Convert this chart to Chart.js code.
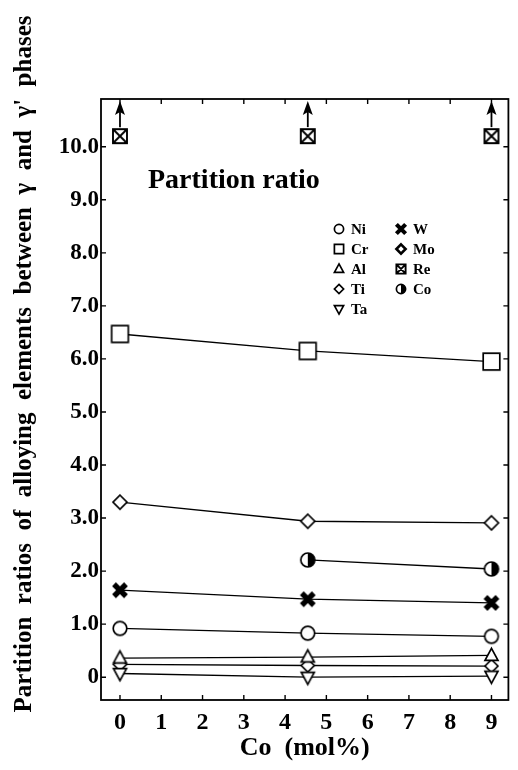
<!DOCTYPE html>
<html>
<head>
<meta charset="utf-8">
<script src="https://cdn.jsdelivr.net/npm/chart.js@4.4.1/dist/chart.umd.min.js"></script>
<style>
  html, body { margin: 0; padding: 0; background: #fff; }
  canvas { display: block; }
</style>
</head>
<body>
<canvas id="ratioChart" width="518" height="770"></canvas>
<script>
// Co content of the alloys (mol%)
var coContent = [0, 4.55, 9];

// partition ratios gamma / gamma' for each element
var ni = [0.92, 0.83, 0.77];
var cr = [6.47, 6.15, 5.95];
var al = [0.36, 0.38, 0.41];
var ti = [3.30, 2.94, 2.91];
var ta = [0.07, 0.00, 0.02];
var w  = [1.64, 1.47, 1.40];
var mo = [0.24, 0.22, 0.21];
var re = [10.2, 10.2, 10.2];   // off scale, drawn with arrows
var co = [null, 2.21, 2.04];

var xTickValues = [0, 1, 2, 3, 4, 5, 6, 7, 8, 9];
var yTickValues = [0, 1, 2, 3, 4, 5, 6, 7, 8, 9, 10];

var serif = "'Liberation Serif', 'Times New Roman', serif";

// draws one symbol, also used for the legend
function drawMarker(ctx, kind, cx, cy, s) {
    ctx.save();
    ctx.strokeStyle = '#000';
    ctx.fillStyle = '#fff';
    ctx.lineWidth = 1.7;
    ctx.beginPath();
    if (kind === 'circle') {
        ctx.arc(cx, cy, s, 0, 2 * Math.PI);
        ctx.fill(); ctx.stroke();
    } else if (kind === 'square') {
        ctx.rect(cx - s, cy - s, 2 * s, 2 * s);
        ctx.fill(); ctx.stroke();
    } else if (kind === 'triUp' || kind === 'triDown') {
        var d = kind === 'triUp' ? 1 : -1;
        ctx.moveTo(cx, cy - d * s * 1.1);
        ctx.lineTo(cx + s, cy + d * s * 0.75);
        ctx.lineTo(cx - s, cy + d * s * 0.75);
        ctx.closePath();
        ctx.fill(); ctx.stroke();
    } else if (kind === 'diamond' || kind === 'diamondBold') {
        if (kind === 'diamondBold') ctx.lineWidth = 2.6;
        ctx.moveTo(cx, cy - s);
        ctx.lineTo(cx + s, cy);
        ctx.lineTo(cx, cy + s);
        ctx.lineTo(cx - s, cy);
        ctx.closePath();
        ctx.fill(); ctx.stroke();
    } else if (kind === 'cross') {
        ctx.lineWidth = s * 0.9;
        ctx.moveTo(cx - s, cy - s); ctx.lineTo(cx + s, cy + s);
        ctx.moveTo(cx + s, cy - s); ctx.lineTo(cx - s, cy + s);
        ctx.stroke();
    } else if (kind === 'boxCross') {
        ctx.lineWidth = 1.9;
        ctx.rect(cx - s, cy - s, 2 * s, 2 * s);
        ctx.fill();
        ctx.moveTo(cx - s, cy - s); ctx.lineTo(cx + s, cy + s);
        ctx.moveTo(cx + s, cy - s); ctx.lineTo(cx - s, cy + s);
        ctx.stroke();
    } else if (kind === 'halfCircle') {
        ctx.arc(cx, cy, s, 0, 2 * Math.PI);
        ctx.fill(); ctx.stroke();
        ctx.beginPath();
        ctx.fillStyle = '#000';
        ctx.arc(cx, cy, s, -Math.PI / 2, Math.PI / 2);
        ctx.closePath();
        ctx.fill();
    }
    ctx.restore();
}

function markerImage(kind, s) {
    var c = document.createElement('canvas');
    var n = Math.ceil(2 * s + 8);
    c.width = n; c.height = n;
    drawMarker(c.getContext('2d'), kind, n / 2, n / 2, s);
    return c;
}

function series(label, values, kind, size, showLine) {
    var pts = [];
    coContent.forEach(function (x, i) {
        if (values[i] !== null) pts.push({x: x, y: values[i]});
    });
    return {
        label: label,
        data: pts,
        marker: kind,
        borderColor: '#000',
        borderWidth: 1.3,
        showLine: showLine !== false,
        pointStyle: markerImage(kind, size),
        pointRadius: size,
        tension: 0
    };
}

var datasets = [
    series('Ni', ni, 'circle', 6.8),
    series('Cr', cr, 'square', 8.3),
    series('Al', al, 'triUp', 6.5),
    series('Ti', ti, 'diamond', 7),
    series('Ta', ta, 'triDown', 6.5),
    series('W', w, 'cross', 6),
    series('Mo', mo, 'diamond', 6.5),
    series('Re', re, 'boxCross', 7, false),
    series('Co', co, 'halfCircle', 7)
];

// frame, inward tick marks, arrows, legend and labels
var decorations = {
    id: 'decorations',
    afterDatasetsDraw: function (chart) {
        var ctx = chart.ctx;
        var a = chart.chartArea;

        // arrows above the Re points (ratio beyond the axis)
        var reMeta = chart.getDatasetMeta(7);
        ctx.save();
        ctx.strokeStyle = '#000';
        ctx.fillStyle = '#000';
        ctx.lineWidth = 1.8;
        reMeta.data.forEach(function (p) {
            ctx.beginPath();
            ctx.moveTo(p.x, p.y - 9);
            ctx.lineTo(p.x, a.top + 10);
            ctx.stroke();
            ctx.beginPath();
            ctx.moveTo(p.x, a.top + 2);
            ctx.lineTo(p.x + 5, a.top + 16);
            ctx.lineTo(p.x, a.top + 13);
            ctx.lineTo(p.x - 5, a.top + 16);
            ctx.closePath();
            ctx.fill();
        });
        ctx.restore();
    },
    afterDraw: function (chart) {
        var ctx = chart.ctx;
        var a = chart.chartArea;
        var xs = chart.scales.x, ys = chart.scales.y;

        ctx.save();
        ctx.strokeStyle = '#000';
        ctx.lineWidth = 1.8;
        ctx.strokeRect(a.left, a.top, a.right - a.left, a.bottom - a.top);

        ctx.lineWidth = 1.4;
        ctx.beginPath();
        xs.ticks.forEach(function (t) {
            var px = xs.getPixelForValue(t.value);
            ctx.moveTo(px, a.bottom); ctx.lineTo(px, a.bottom - 5);
            ctx.moveTo(px, a.top); ctx.lineTo(px, a.top + 5);
        });
        ys.ticks.forEach(function (t) {
            var py = ys.getPixelForValue(t.value);
            ctx.moveTo(a.left, py); ctx.lineTo(a.left + 5, py);
            ctx.moveTo(a.right, py); ctx.lineTo(a.right - 5, py);
        });
        ctx.stroke();

        // y axis title
        ctx.fillStyle = '#000';
        ctx.font = 'bold 25px ' + serif;
        ctx.textAlign = 'center';
        ctx.textBaseline = 'middle';
        ctx.save();
        ctx.translate(25, 364);
        ctx.rotate(-Math.PI / 2);
        ctx.fillText("Partition  ratios  of  alloying  elements  between  \u03b3  and  \u03b3'  phases", 0, 0);
        ctx.restore();

        // panel label
        ctx.font = 'bold 28px ' + serif;
        ctx.textAlign = 'left';
        ctx.textBaseline = 'alphabetic';
        ctx.fillText('Partition ratio', 148, 188);

        // two column legend
        ctx.font = 'bold 15px ' + serif;
        ctx.textBaseline = 'middle';
        chart.data.datasets.forEach(function (ds, i) {
            var col = i < 5 ? 0 : 1;
            var row = i < 5 ? i : i - 5;
            var mx = col === 0 ? 339 : 401;
            var y = 229 + row * 20;
            drawMarker(ctx, ds.label === 'Mo' ? 'diamondBold' : ds.marker, mx, y, 4.6);
            ctx.fillText(ds.label, mx + 12, y + 1);
        });
        ctx.restore();
    }
};

new Chart('ratioChart', {
    type: 'line',
    data: { datasets: datasets },
    options: {
        responsive: false,
        animation: false,
        layout: { padding: { top: 99, right: 6, left: 0, bottom: 0 } },
        plugins: {
            legend: { display: false },
            tooltip: { enabled: false }
        },
        scales: {
            x: {
                type: 'linear',
                min: -0.46,
                max: 9.41,
                afterBuildTicks: function (scale) {
                    scale.ticks = xTickValues.map(function (v) { return {value: v}; });
                },
                afterFit: function (scale) { scale.height = 70; },
                grid: { display: false, drawTicks: false },
                border: { display: false },
                ticks: {
                    color: '#000',
                    padding: 8,
                    maxRotation: 0,
                    autoSkip: false,
                    font: { family: serif, size: 24, weight: 'bold' }
                },
                title: {
                    display: true,
                    text: 'Co  (mol%)',
                    color: '#000',
                    padding: { top: 0, bottom: 6 },
                    font: { family: serif, size: 26, weight: 'bold' }
                }
            },
            y: {
                type: 'linear',
                min: -0.43,
                max: 10.9,
                afterBuildTicks: function (scale) {
                    scale.ticks = yTickValues.map(function (v) { return {value: v}; });
                },
                afterFit: function (scale) { scale.width = 101; },
                grid: { display: false, drawTicks: false },
                border: { display: false },
                ticks: {
                    color: '#000',
                    padding: 2,
                    autoSkip: false,
                    font: { family: serif, size: 23, weight: 'bold' },
                    callback: function (v) { return v === 0 ? '0' : v.toFixed(1); }
                }
            }
        }
    },
    plugins: [decorations]
});
</script>
</body>
</html>
